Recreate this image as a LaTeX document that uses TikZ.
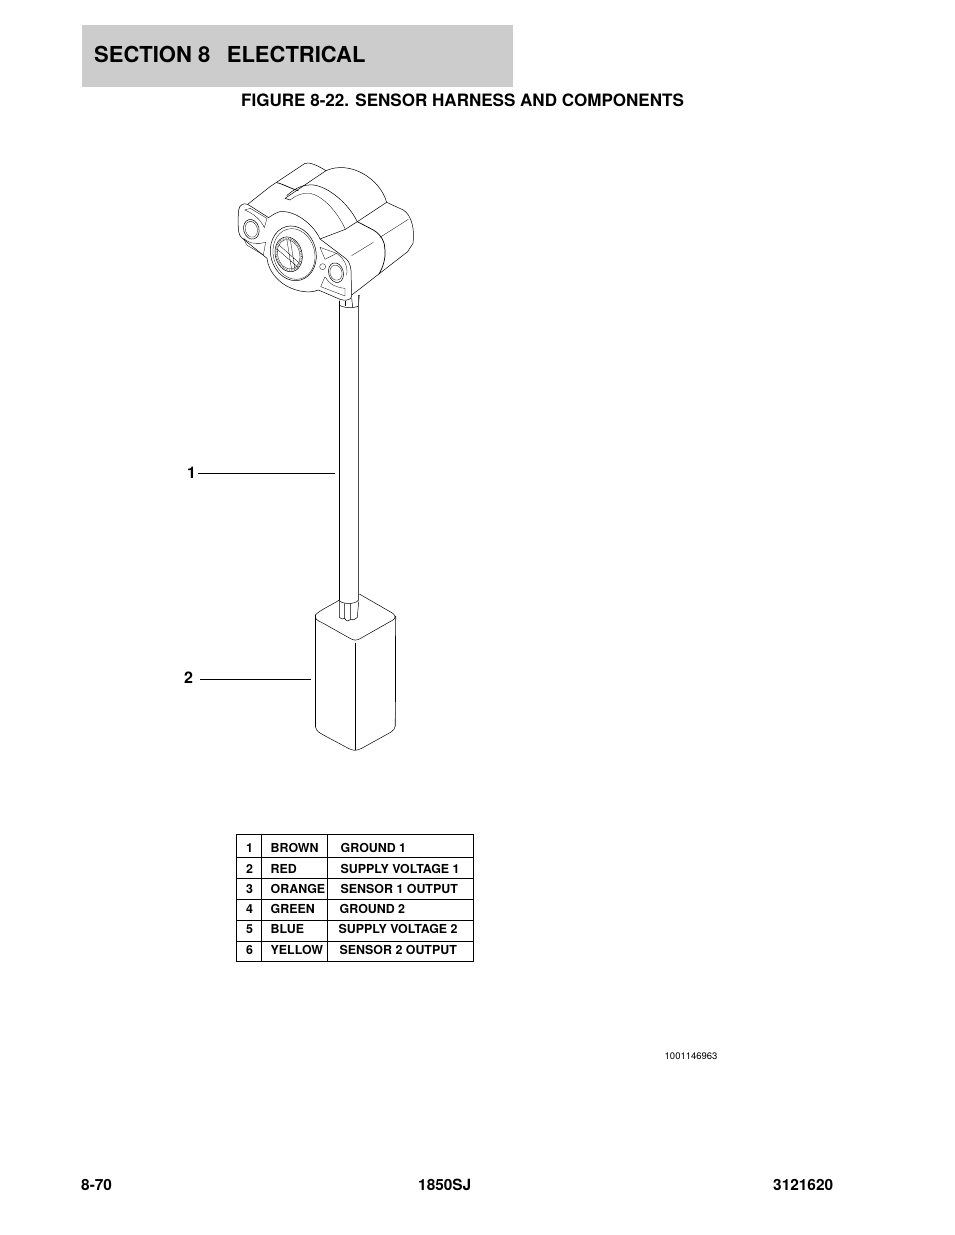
\documentclass[tikz,border=0pt]{standalone}
\usepackage{fontspec}
\setmainfont{TeX Gyre Heros}
\tikzset{
	txt/.style={inner sep=0pt, anchor=base west, font=\bfseries\fontsize{12.4}{14}\selectfont},
	callout/.style={inner sep=0pt, anchor=base west, font=\bfseries\fontsize{16}{18}\selectfont},
	title/.style={inner sep=0pt, anchor=base west, font=\bfseries\fontsize{17.04}{20}\selectfont},
	foot/.style={inner sep=0pt, anchor=base west, font=\bfseries\fontsize{15.4}{18}\selectfont},
	part/.style={line width=0.5pt, line join=round},
	thin part/.style={line width=0.3pt, line join=round},
	rule/.style={line width=0.7pt},
}
\begin{document}
\begin{tikzpicture}[x=1pt,y=-1pt]
	\useasboundingbox (0,0) rectangle (954,1235);
	\fill[black!20] (82,25) rectangle (513,87);
	\node[inner sep=0pt, anchor=base west, font=\bfseries\fontsize{22}{28}\selectfont] (section) at (94,62) {SECTION 8\hspace{16.5pt}ELECTRICAL};
	\node[title] (figure) at (241,106) {FIGURE 8-22. SENSOR HARNESS AND COMPONENTS};
	% sensor, coordinates of a 3x crop
	\begin{scope}[shift={(225,155)},x=0.3333pt,y=-0.3333pt]
		% flange
		\draw[part] (41,165) .. controls (38,195) and (40,220) .. (41,230) .. controls (44,245) and (52,252) .. (61,257) -- (126,310) .. controls (130,350) and (165,395) .. (225,408) .. controls (245,412) and (265,412) .. (280,405) -- (345,433) .. controls (360,438) and (376,436) .. (380,425) -- (378,345) .. controls (376,325) and (368,313) .. (355,305) -- (285,252) .. controls (270,215) and (215,165) .. (165,170) .. controls (155,172) and (142,180) .. (131,188) -- (68,148) .. controls (55,143) and (43,150) .. (41,165);
		% back part
		\draw[part] (68,148) -- (135,95) -- (240,25) .. controls (255,20) and (280,33) .. (303,47);
		\draw[part] (303,47) .. controls (375,15) and (465,70) .. (485,142) -- (535,165) .. controls (560,180) and (570,225) .. (564,265) -- (548,290) -- (400,405) -- (380,420);
		\draw[rule] (155,83) .. controls (170,85) and (195,100) .. (220,107);
		\draw[part] (303,47) -- (180,130) -- (195,135);
		% raised ridge
		\draw[part] (185,122) .. controls (215,95) and (240,88) .. (265,90) .. controls (310,95) and (370,145) .. (397,200);
		\draw[thin part] (195,135) .. controls (215,120) and (235,112) .. (255,115) .. controls (295,122) and (340,175) .. (361,223);
		\draw[part] (285,252) -- (361,223) -- (397,200) -- (485,142);
		% front block
		\draw[rule] (397,200) -- (445,225) .. controls (470,240) and (480,262) .. (480,285) .. controls (482,310) and (475,335) .. (462,357);
		\draw[thin part] (380,302) -- (445,262);
		\draw[thin part] (465,247) -- (550,193);
		% left hole
		\draw[part] (79,223) circle[x radius=23, y radius=30, rotate=15];
		\draw[thin part] (79,223) circle[x radius=18, y radius=24, rotate=15];
		\draw[thin part] (59,165) -- (76,160) -- (126,190) -- (118,218) .. controls (108,195) and (85,175) .. (59,165);
		\draw[thin part] (56,250) .. controls (75,268) and (100,268) .. (122,262) -- (115,300) -- (65,270) -- cycle;
		% shaft
		\draw[part] (205,295) circle[x radius=68, y radius=83, rotate=15];
		\draw[thin part] (207,297) circle[x radius=62, y radius=77, rotate=15];
		\draw[part] (191,298) circle[x radius=40, y radius=53, rotate=15];
		\draw[thin part] (191,298) circle[x radius=33, y radius=45, rotate=15];
		\draw[line width=1.2pt, dash pattern=on 0.7pt off 1pt, black!60] (191,298) circle[x radius=37, y radius=49, rotate=15];
		\draw[thin part] (156,282) -- (218,336) (162,270) -- (224,325) (186,256) -- (200,344) (196,254) -- (210,342);
		% right hole
		\draw[part] (333,353) circle[x radius=22, y radius=30, rotate=15];
		\draw[thin part] (333,353) circle[x radius=18, y radius=23, rotate=15];
		\draw[thin part] (293,335) circle[radius=9];
		\draw[thin part] (285,277) -- (335,295) -- (300,313) -- cycle;
		\draw[thin part] (335,295) .. controls (355,310) and (370,330) .. (365,360);
		\draw[thin part] (300,365) .. controls (315,390) and (335,398) .. (360,400) -- (360,423) -- (287,395) -- cycle;
		% wires at the top of the cable
		\coordinate (cableleft) at (343,437);
		\coordinate (cableright) at (403,420);
		\draw[part] (cableleft) -- (343,450) .. controls (355,460) and (390,460) .. (400,453);
		\draw[part] (360,437) -- (360,453);
		\draw[part] (380,430) -- (383,456);
		\draw[part] (cableright) -- (400,453);
	\end{scope}
	% cable
	\draw[rule] (339,300.7) -- (339,600);
	\draw[rule, black!70] (358.7,295) -- (358.7,600);
	\coordinate (cable) at (335,473);
	\node[callout] (labela) at (187,478) {1};
	\draw[part] (198,473) -- (cable);
	% weight, coordinates of a 3x crop
	\begin{scope}[shift={(300,570)},x=0.3333pt,y=-0.3333pt]
		\draw[part] (46,135) .. controls (60,120) and (95,105) .. (118,90);
		\draw[part] (178,72) -- (270,125) .. controls (280,130) and (285,135) .. (285,140);
		\draw[part] (46,140) .. controls (46,150) and (60,155) .. (70,160) -- (150,205) .. controls (160,212) and (172,212) .. (182,205) -- (270,155) .. controls (280,150) and (287,145) .. (287,138);
		\draw[rule] (46,135) -- (46,470);
		\draw[part] (46,470) .. controls (50,485) and (60,490) .. (70,495) -- (145,535) .. controls (160,543) and (170,543) .. (185,535) -- (270,488) .. controls (280,482) and (286,475) .. (286,468);
		\draw[rule] (286,468) -- (287,138);
		\draw[part] (166,218) -- (166,540);
		\draw[part] (118,90) -- (118,142) .. controls (122,148) and (130,148) .. (134,145) -- (134,100);
		\draw[part] (134,145) .. controls (138,155) and (148,155) .. (152,148) -- (152,100);
		\draw[part] (152,148) .. controls (158,150) and (168,150) .. (172,142) -- (176,95);
		\draw[part] (118,92) .. controls (125,102) and (165,105) .. (176,90);
	\end{scope}
	\coordinate (weight) at (311,679);
	\node[callout] (labelb) at (184,683) {2};
	\draw[part] (200,679) -- (weight);
	% table
	\draw[rule] (236,834.5) rectangle (473,961);
	\draw[rule] (236,857) -- (473,857);
	\draw[rule] (236,878) -- (473,878);
	\draw[rule] (236,899) -- (473,899);
	\draw[rule] (236,920) -- (473,920);
	\draw[rule] (236,941) -- (473,941);
	\draw[rule] (261.5,834.5) -- (261.5,961);
	\draw[rule] (327,834.5) -- (327,961);
	\node[txt] (num1) at (246,852) {1};
	\node[txt] (num2) at (246,873) {2};
	\node[txt] (num3) at (246,893) {3};
	\node[txt] (num4) at (246,913) {4};
	\node[txt] (num5) at (246,933) {5};
	\node[txt] (num6) at (246,954) {6};
	\node[txt] (wire1) at (270.5,852) {BROWN};
	\node[txt] (wire2) at (270.5,873) {RED};
	\node[txt] (wire3) at (270.5,893) {ORANGE};
	\node[txt] (wire4) at (270.5,913) {GREEN};
	\node[txt] (wire5) at (270.5,933) {BLUE};
	\node[txt] (wire6) at (270.5,954) {YELLOW};
	\node[txt] (func1) at (340.5,852) {GROUND 1};
	\node[txt] (func2) at (340.5,873) {SUPPLY VOLTAGE 1};
	\node[txt] (func3) at (340.5,893) {SENSOR 1 OUTPUT};
	\node[txt] (func4) at (339.5,913) {GROUND 2};
	\node[txt] (func5) at (338.5,933) {SUPPLY VOLTAGE 2};
	\node[txt] (func6) at (339.5,954) {SENSOR 2 OUTPUT};
	\node[inner sep=0pt, anchor=base west, font=\fontsize{9.5}{11}\selectfont] (number) at (664.5,1059) {1001146963};
	% footer
	\node[foot] (page) at (81,1190) {8-70};
	\node[foot] (model) at (418,1190) {1850SJ};
	\node[foot] (manual) at (773,1190) {3121620};
\end{tikzpicture}
\end{document}
